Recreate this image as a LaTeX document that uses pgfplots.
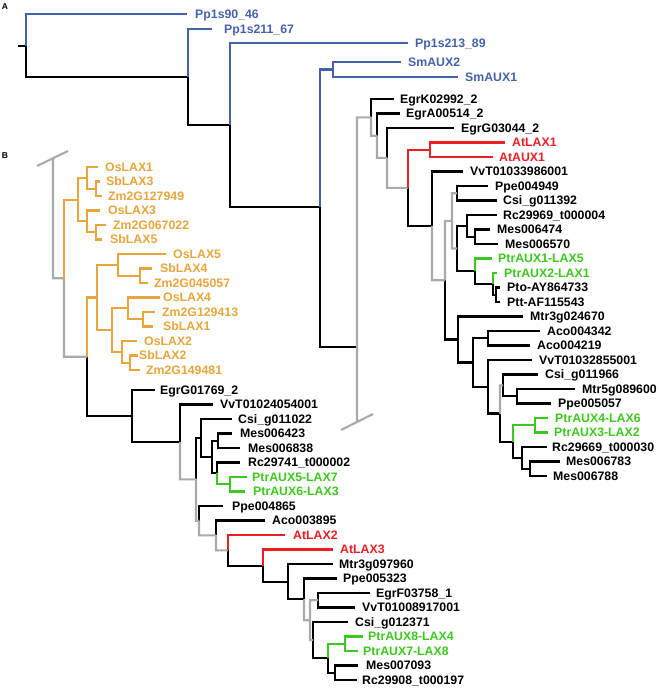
\documentclass[border=0pt]{standalone}
\usepackage{fontspec}
\setmainfont{Liberation Sans}
\usepackage{pgfplots}
\pgfplotsset{compat=1.18}
\definecolor{cblue}{RGB}{68,98,170}
\definecolor{corange}{RGB}{232,165,60}
\definecolor{cred}{RGB}{235,30,35}
\definecolor{cgreen}{RGB}{60,200,30}
\definecolor{cgrey}{RGB}{170,170,170}
\tikzset{lab/.style={anchor=base west, inner sep=0pt, yshift=-4.4bp, font=\bfseries\fontsize{12.3bp}{14bp}\selectfont}}
\begin{document}
\begin{tikzpicture}
\begin{axis}[
  width=658bp, height=690bp, scale only axis,
  xmin=0, xmax=658, ymin=0, ymax=690, y dir=reverse,
  hide axis, clip=false,
  unbounded coords=jump,
  every axis plot/.append style={line width=2.1bp, mark=none},
]
\path (axis cs:0,0) rectangle (axis cs:658,690);
% ---------------- black branches
\addplot[black] coordinates {
(18,46) (26,46) (nan,nan)
(26,46) (26,77) (188,77) (nan,nan)
(188,77) (188,125) (230,125) (nan,nan)
(230,125) (230,207) (320,207) (nan,nan)
(320,207) (320,347) (357,347) (nan,nan)
(371,117.35) (371,99) (394,99) (nan,nan)
(377,135.7) (377,113.5) (400,113.5) (nan,nan)
(387,157.9) (387,128) (454,128) (nan,nan)
(408,187.8) (408,225.85) (432,225.85) (nan,nan)
(432,225.85) (432,171.5) (463,171.5) (nan,nan)
(457,193.25) (457,186) (488,186) (nan,nan)
(457,193.25) (457,200.5) (497,200.5) (nan,nan)
(457,248.5) (457,225.9) (467,225.9) (nan,nan)
(467,225.9) (467,215) (497,215) (nan,nan)
(467,225.9) (467,236.75) (475,236.75) (nan,nan)
(475,236.75) (475,229.5) (490,229.5) (nan,nan)
(475,236.75) (475,244) (498,244) (nan,nan)
(457,248.5) (457,271.2) (475,271.2) (nan,nan)
(475,271.2) (475,283.9) (493,283.9) (nan,nan)
(493,283.9) (493,294.75) (496,294.75) (nan,nan)
(496,294.75) (496,287.5) (500,287.5) (nan,nan)
(496,294.75) (496,302) (500,302) (nan,nan)
(445,280.2) (445,339.5) (458,339.5) (nan,nan)
(458,339.5) (458,316.5) (523,316.5) (nan,nan)
(458,339.5) (458,362.5) (473,362.5) (nan,nan)
(473,362.5) (473,338.25) (488,338.25) (nan,nan)
(488,338.25) (488,331) (540,331) (nan,nan)
(488,338.25) (488,345.5) (530,345.5) (nan,nan)
(473,362.5) (473,386.75) (488,386.75) (nan,nan)
(488,386.75) (488,360) (532,360) (nan,nan)
(488,386.75) (488,413.5) (500,413.5) (nan,nan)
(503,385.4) (503,374.5) (538,374.5) (nan,nan)
(503,385.4) (503,396.25) (517,396.25) (nan,nan)
(517,396.25) (517,389) (575,389) (nan,nan)
(517,396.25) (517,403.5) (551,403.5) (nan,nan)
(500,413.5) (500,441.6) (513,441.6) (nan,nan)
(513,441.6) (513,457.9) (522,457.9) (nan,nan)
(522,457.9) (522,447) (547,447) (nan,nan)
(522,457.9) (522,468.75) (530,468.75) (nan,nan)
(530,468.75) (530,461.5) (560,461.5) (nan,nan)
(530,468.75) (530,476) (547,476) (nan,nan)
(87,356.75) (87,416) (132,416) (nan,nan)
(132,416) (132,390) (155,390) (nan,nan)
(132,416) (132,441.9) (180,441.9) (nan,nan)
(180,441.9) (180,404.5) (213,404.5) (nan,nan)
(196,479.35) (196,438) (201,438) (nan,nan)
(201,438) (201,419) (232,419) (nan,nan)
(201,438) (201,457.1) (212,457.1) (nan,nan)
(212,457.1) (212,440.75) (218,440.75) (nan,nan)
(218,440.75) (218,433.5) (232,433.5) (nan,nan)
(218,440.75) (218,448) (240,448) (nan,nan)
(212,457.1) (212,473.4) (217,473.4) (nan,nan)
(217,473.4) (217,462.5) (240,462.5) (nan,nan)
(199,520.7) (199,506) (223,506) (nan,nan)
(216,535.4) (216,520.5) (265,520.5) (nan,nan)
(228,550.3) (228,565.6) (263,565.6) (nan,nan)
(263,565.6) (263,581.7) (288,581.7) (nan,nan)
(288,581.7) (288,564) (333,564) (nan,nan)
(288,581.7) (288,599.35) (304,599.35) (nan,nan)
(304,599.35) (304,578.5) (337,578.5) (nan,nan)
(318,600.25) (318,593) (370,593) (nan,nan)
(318,600.25) (318,607.5) (355,607.5) (nan,nan)
(313,640.1) (313,622) (348,622) (nan,nan)
(313,640.1) (313,658.25) (328,658.25) (nan,nan)
(328,658.25) (328,672.75) (335,672.75) (nan,nan)
(335,672.75) (335,665.5) (358,665.5) (nan,nan)
(335,672.75) (335,680) (357,680)
};
% ---------------- grey branches
\addplot[cgrey] coordinates {
(357,347) (357,117.35) (371,117.35) (nan,nan)
(357,347) (357,422) (nan,nan)
(341,430) (373,414) (nan,nan)
(371,117.35) (371,135.7) (377,135.7) (nan,nan)
(377,135.7) (377,157.9) (387,157.9) (nan,nan)
(387,157.9) (387,187.8) (408,187.8) (nan,nan)
(432,225.85) (432,280.2) (445,280.2) (nan,nan)
(445,280.2) (445,220.9) (452,220.9) (nan,nan)
(452,220.9) (452,193.25) (457,193.25) (nan,nan)
(452,220.9) (452,248.5) (457,248.5) (nan,nan)
(500,413.5) (500,385.4) (503,385.4) (nan,nan)
(37,166) (68,151) (nan,nan)
(53,159) (53,278.2) (64,278.2) (nan,nan)
(64,278.2) (64,356.75) (87,356.75) (nan,nan)
(180,441.9) (180,479.35) (196,479.35) (nan,nan)
(196,479.35) (196,520.7) (199,520.7) (nan,nan)
(199,520.7) (199,535.4) (216,535.4) (nan,nan)
(216,535.4) (216,550.3) (228,550.3) (nan,nan)
(304,599.35) (304,620.2) (310,620.2) (nan,nan)
(310,620.2) (310,600.25) (318,600.25) (nan,nan)
(310,620.2) (310,640.1) (313,640.1)
};
% ---------------- blue branches
\addplot[cblue] coordinates {
(26,46) (26,14) (187,14) (nan,nan)
(188,77) (188,29) (212,29) (nan,nan)
(230,125) (230,43) (408,43) (nan,nan)
(320,207) (320,69.5) (333,69.5) (nan,nan)
(333,69.5) (333,62) (401,62) (nan,nan)
(333,69.5) (333,77) (458,77)
};
% ---------------- red branches
\addplot[cred] coordinates {
(408,187.8) (408,149.75) (430,149.75) (nan,nan)
(430,149.75) (430,142.5) (505,142.5) (nan,nan)
(430,149.75) (430,157) (493,157) (nan,nan)
(228,550.3) (228,535) (285,535) (nan,nan)
(263,565.6) (263,549.5) (333,549.5)
};
% ---------------- green branches
\addplot[cgreen] coordinates {
(475,271.2) (475,258.5) (492,258.5) (nan,nan)
(493,283.9) (493,273) (497,273) (nan,nan)
(513,441.6) (513,425.25) (535,425.25) (nan,nan)
(535,425.25) (535,418) (548,418) (nan,nan)
(535,425.25) (535,432.5) (548,432.5) (nan,nan)
(217,473.4) (217,484.25) (230,484.25) (nan,nan)
(230,484.25) (230,477) (247,477) (nan,nan)
(230,484.25) (230,491.5) (245,491.5) (nan,nan)
(328,658.25) (328,643.75) (345,643.75) (nan,nan)
(345,643.75) (345,636.5) (363,636.5) (nan,nan)
(345,643.75) (345,651) (358,651)
};
% ---------------- orange branches
\addplot[corange] coordinates {
(64,278.2) (64,199.6) (78,199.6) (nan,nan)
(78,199.6) (78,177.9) (87,177.9) (nan,nan)
(87,177.9) (87,167) (98,167) (nan,nan)
(87,177.9) (87,188.75) (96,188.75) (nan,nan)
(96,188.75) (96,181.5) (100,181.5) (nan,nan)
(96,188.75) (96,196) (102,196) (nan,nan)
(78,199.6) (78,221.4) (87,221.4) (nan,nan)
(87,221.4) (87,210.5) (100,210.5) (nan,nan)
(87,221.4) (87,232.25) (96,232.25) (nan,nan)
(96,232.25) (96,225) (106,225) (nan,nan)
(96,232.25) (96,239.5) (102,239.5) (nan,nan)
(87,356.75) (87,297.5) (97,297.5) (nan,nan)
(97,297.5) (97,264.9) (118,264.9) (nan,nan)
(118,264.9) (118,254) (166,254) (nan,nan)
(118,264.9) (118,275.75) (140,275.75) (nan,nan)
(140,275.75) (140,268.5) (152,268.5) (nan,nan)
(140,275.75) (140,283) (148,283) (nan,nan)
(97,297.5) (97,330.1) (112,330.1) (nan,nan)
(112,330.1) (112,308.4) (128,308.4) (nan,nan)
(128,308.4) (128,297.5) (160,297.5) (nan,nan)
(128,308.4) (128,319.25) (143,319.25) (nan,nan)
(143,319.25) (143,312) (155,312) (nan,nan)
(143,319.25) (143,326.5) (153,326.5) (nan,nan)
(112,330.1) (112,351.9) (122,351.9) (nan,nan)
(122,351.9) (122,341) (137,341) (nan,nan)
(122,351.9) (122,362.75) (130,362.75) (nan,nan)
(130,362.75) (130,355.5) (138,355.5) (nan,nan)
(130,362.75) (130,370) (140,370)
};
% ---------------- panel letters
\node[anchor=center, inner sep=0pt, font=\bfseries\fontsize{8.5bp}{10bp}\selectfont] at (axis cs:5,7) {A};
\node[anchor=center, inner sep=0pt, font=\bfseries\fontsize{8.5bp}{10bp}\selectfont] at (axis cs:5,156) {B};
% ---------------- labels: part A
\node[lab, text=cblue] at (axis cs:195,14) {Pp1s90\_46};
\node[lab, text=cblue] at (axis cs:224,29) {Pp1s211\_67};
\node[lab, text=cblue] at (axis cs:415,43) {Pp1s213\_89};
\node[lab, text=cblue] at (axis cs:408,62) {SmAUX2};
\node[lab, text=cblue] at (axis cs:465,77) {SmAUX1};
% right clade
\node[lab] at (axis cs:400,99) {EgrK02992\_2};
\node[lab] at (axis cs:406,113.5) {EgrA00514\_2};
\node[lab] at (axis cs:461,128) {EgrG03044\_2};
\node[lab, text=cred] at (axis cs:512,142.5) {AtLAX1};
\node[lab, text=cred] at (axis cs:499,157) {AtAUX1};
\node[lab] at (axis cs:470,171.5) {VvT01033986001};
\node[lab] at (axis cs:495,186) {Ppe004949};
\node[lab] at (axis cs:503,200.5) {Csi\_g011392};
\node[lab] at (axis cs:503,215) {Rc29969\_t000004};
\node[lab] at (axis cs:497,229.5) {Mes006474};
\node[lab] at (axis cs:505,244) {Mes006570};
\node[lab, text=cgreen] at (axis cs:498,258.5) {PtrAUX1-LAX5};
\node[lab, text=cgreen] at (axis cs:504,273) {PtrAUX2-LAX1};
\node[lab] at (axis cs:507,287.5) {Pto-AY864733};
\node[lab] at (axis cs:507,302) {Ptt-AF115543};
\node[lab] at (axis cs:530,316.5) {Mtr3g024670};
\node[lab] at (axis cs:547,331) {Aco004342};
\node[lab] at (axis cs:537,345.5) {Aco004219};
\node[lab] at (axis cs:539,360) {VvT01032855001};
\node[lab] at (axis cs:545,374.5) {Csi\_g011966};
\node[lab] at (axis cs:582,389) {Mtr5g089600};
\node[lab] at (axis cs:558,403.5) {Ppe005057};
\node[lab, text=cgreen] at (axis cs:555,418) {PtrAUX4-LAX6};
\node[lab, text=cgreen] at (axis cs:554,432.5) {PtrAUX3-LAX2};
\node[lab] at (axis cs:552,447) {Rc29669\_t000030};
\node[lab] at (axis cs:566,461.5) {Mes006783};
\node[lab] at (axis cs:553,476) {Mes006788};
% left clade, orange
\node[lab, text=corange] at (axis cs:105,167) {OsLAX1};
\node[lab, text=corange] at (axis cs:106,181.5) {SbLAX3};
\node[lab, text=corange] at (axis cs:108,196) {Zm2G127949};
\node[lab, text=corange] at (axis cs:108,210.5) {OsLAX3};
\node[lab, text=corange] at (axis cs:113,225) {Zm2G067022};
\node[lab, text=corange] at (axis cs:110,239.5) {SbLAX5};
\node[lab, text=corange] at (axis cs:173,254) {OsLAX5};
\node[lab, text=corange] at (axis cs:160,268.5) {SbLAX4};
\node[lab, text=corange] at (axis cs:154,283) {Zm2G045057};
\node[lab, text=corange] at (axis cs:163,297.5) {OsLAX4};
\node[lab, text=corange] at (axis cs:162,312) {Zm2G129413};
\node[lab, text=corange] at (axis cs:163,326.5) {SbLAX1};
\node[lab, text=corange] at (axis cs:144,341) {OsLAX2};
\node[lab, text=corange] at (axis cs:139,355.5) {SbLAX2};
\node[lab, text=corange] at (axis cs:146,370) {Zm2G149481};
% left clade, dicots
\node[lab] at (axis cs:160,390) {EgrG01769\_2};
\node[lab] at (axis cs:220,404.5) {VvT01024054001};
\node[lab] at (axis cs:238,419) {Csi\_g011022};
\node[lab] at (axis cs:240,433.5) {Mes006423};
\node[lab] at (axis cs:248,448) {Mes006838};
\node[lab] at (axis cs:248,462.5) {Rc29741\_t000002};
\node[lab, text=cgreen] at (axis cs:252,477) {PtrAUX5-LAX7};
\node[lab, text=cgreen] at (axis cs:253,491.5) {PtrAUX6-LAX3};
\node[lab] at (axis cs:232,506) {Ppe004865};
\node[lab] at (axis cs:272,520.5) {Aco003895};
\node[lab, text=cred] at (axis cs:293,535) {AtLAX2};
\node[lab, text=cred] at (axis cs:340,549.5) {AtLAX3};
\node[lab] at (axis cs:339,564) {Mtr3g097960};
\node[lab] at (axis cs:343,578.5) {Ppe005323};
\node[lab] at (axis cs:376,593) {EgrF03758\_1};
\node[lab] at (axis cs:362,607.5) {VvT01008917001};
\node[lab] at (axis cs:355,622) {Csi\_g012371};
\node[lab, text=cgreen] at (axis cs:368,636.5) {PtrAUX8-LAX4};
\node[lab, text=cgreen] at (axis cs:363,651) {PtrAUX7-LAX8};
\node[lab] at (axis cs:366,665.5) {Mes007093};
\node[lab] at (axis cs:362,680) {Rc29908\_t000197};
\end{axis}
\end{tikzpicture}
\end{document}
